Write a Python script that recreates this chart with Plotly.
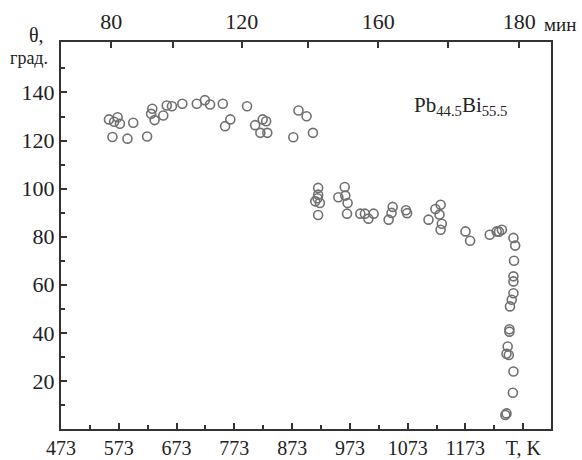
import plotly.graph_objects as go

# Temperature (K) and contact angle (deg)
T_K = [556, 571, 575, 565, 598, 562, 588, 622, 631, 629, 635, 650, 656, 665, 683, 708, 722, 731, 753, 795,
       766, 757, 809, 822, 828, 818, 830, 884, 898, 875, 909,
       918, 918, 913, 921, 918, 917,
       964, 953, 965, 969, 968,
       991, 999, 1005, 1014,
       1047, 1045, 1040, 1070, 1072,
       1109, 1121, 1130, 1128, 1132, 1130,
       1173, 1181,
       1215, 1227, 1236, 1231,
       1256, 1259, 1257, 1256, 1256, 1256, 1253, 1250, 1249, 1249, 1246, 1244, 1248, 1256, 1255, 1244, 1242]
theta = [128.8, 129.7, 127.0, 127.8, 127.4, 121.5, 120.8, 121.7, 133.2, 131.1, 128.5, 130.4, 134.6, 134.3, 135.3, 135.3, 136.8, 135.0, 135.3, 134.3,
         128.8, 126.0, 126.4, 128.8, 128.0, 123.2, 123.2, 132.5, 130.1, 121.4, 123.2,
         100.3, 97.5, 94.7, 94.0, 89.0, 96.0,
         100.7, 96.4, 97.1, 94.0, 89.6,
         89.6, 89.6, 87.5, 89.6,
         92.4, 89.9, 87.1, 91.0, 89.8,
         87.1, 91.5, 93.3, 89.2, 85.4, 82.9,
         82.2, 78.3,
         80.8, 82.2, 82.9, 82.1,
         79.5, 76.3, 70.0, 63.5, 61.4, 56.5, 53.8, 51.0, 41.5, 40.5, 34.3, 31.3, 30.8, 23.9, 15.1, 6.5, 5.8]

x_ticks = [473, 573, 673, 773, 873, 973, 1073, 1173, 1273]
x_labels = ["473", "573", "673", "773", "873", "973", "1073", "1173", "T, K"]
y_ticks = [20, 40, 60, 80, 100, 120, 140]
# top time axis (minutes), positions expressed on the temperature scale
t_pos = [560, 667, 786, 901, 1022, 1143, 1266]
t_labels = ["80", "", "120", "", "160", "", "180"]

FONT = "Liberation Serif"
AX = "#333333"
TF = dict(family=FONT, size=22, color="#222222")
TF_BOTTOM = dict(family=FONT, size=20, color="#222222")
X_RANGE = [473, 1321]
Y_RANGE = [0, 161]

fig = go.Figure()
fig.add_trace(go.Scatter(
    x=T_K, y=theta, mode="markers",
    marker=dict(symbol="circle-open", size=9, color="#707070", line=dict(width=1.6, color="#707070")),
    showlegend=False, xaxis="x", yaxis="y"))
fig.add_trace(go.Scatter(x=[T_K[0]], y=[theta[0]], mode="markers", marker=dict(opacity=0),
                         showlegend=False, xaxis="x2", yaxis="y", hoverinfo="skip"))

fig.update_layout(
    template="none",
    width=582, height=460,
    margin=dict(l=61, r=31, t=42, b=31),
    paper_bgcolor="white", plot_bgcolor="white",
    font=dict(family=FONT, size=22, color="#222222"),
    xaxis=dict(range=X_RANGE, tickmode="array", tickvals=x_ticks, ticktext=x_labels,
               ticks="inside", ticklen=6, tickwidth=2, tickcolor=AX, tickfont=TF_BOTTOM,
               showline=True, linewidth=2, linecolor=AX, mirror=True,
               showgrid=False, zeroline=False, automargin=False,
               minor=dict(ticks="inside", ticklen=4, tickwidth=2, tickcolor=AX,
                          tick0=523, dtick=100, showgrid=False)),
    xaxis2=dict(range=X_RANGE, overlaying="x", side="top", tickmode="array", tickvals=t_pos,
                ticktext=t_labels, ticks="inside", ticklen=6, tickwidth=2, tickcolor=AX,
                tickfont=TF, ticklabelstandoff=8,
                showline=False, showgrid=False, zeroline=False, automargin=False),
    yaxis=dict(range=Y_RANGE, tickmode="array", tickvals=y_ticks,
               ticks="inside", ticklen=6, tickwidth=2, tickcolor=AX, tickfont=TF,
               showline=True, linewidth=2, linecolor=AX, mirror=True,
               showgrid=False, zeroline=False, automargin=False,
               minor=dict(ticks="inside", ticklen=4, tickwidth=2, tickcolor=AX,
                          tick0=10, dtick=20, showgrid=False)),
    annotations=[
        dict(text="мин", xref="paper", yref="paper", x=0.982, y=1.044, xanchor="left",
             yanchor="middle", showarrow=False, font=dict(family=FONT, size=19)),
        dict(text="θ,", xref="paper", yref="paper", x=-0.05, y=1.018, xanchor="center",
             yanchor="middle", showarrow=False, font=dict(family=FONT, size=20)),
        dict(text="град.", xref="paper", yref="paper", x=-0.065, y=0.959, xanchor="center",
             yanchor="middle", showarrow=False, font=dict(family=FONT, size=18)),
        dict(text="Pb<sub>44.5</sub>Bi<sub>55.5</sub>", xref="paper", yref="paper", x=0.816, y=0.835,
             xanchor="center", yanchor="middle", showarrow=False, font=dict(family=FONT, size=21)),
    ],
)

fig.write_html("out.html", config={"displayModeBar": False},
               post_script="document.body.style.margin='0';")
